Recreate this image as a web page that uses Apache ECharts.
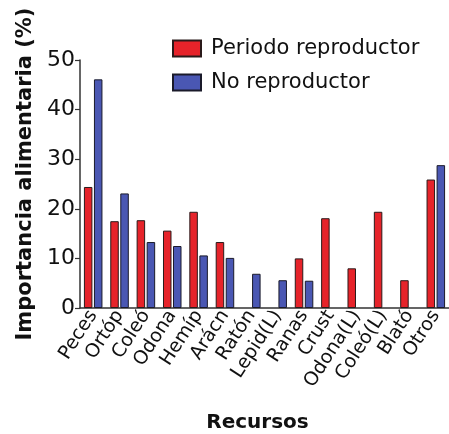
<!DOCTYPE html>
<html><head><meta charset="utf-8">
<script src="https://cdn.jsdelivr.net/npm/echarts@6/dist/echarts.min.js"></script>
<style>html,body{margin:0;padding:0;background:#fff}#c{width:449px;height:434px}</style>
</head><body><div id="c"></div>
<script>
const categories = ['Peces','Ortóp','Coleó','Odona','Hemíp','Arácn','Ratón','Lepid(L)','Ranas','Crust','Odona(L)','Coleó(L)','Blató','Otros'];
const reproductor = [24.4,17.5,17.7,15.6,19.4,13.3,null,null,10.0,18.1,8.0,19.4,5.6,25.9];
const noReproductor = [46.1,23.1,13.3,12.5,10.6,10.1,6.9,5.6,5.5,null,null,null,null,28.8];
const yTicks = [0,10,20,30,40,50];

const chart = echarts.init(document.getElementById('c'));
const font = 'DejaVu Sans';
chart.setOption({
  animation:false,
  backgroundColor:'#fff',
  textStyle:{fontFamily:font},
  legend:{
    orient:'vertical', left:167, top:33, itemWidth:28, itemHeight:16, itemGap:13,
    icon:'rect',
    textStyle:{fontSize:21, lineHeight:16, color:'#111', fontFamily:font, padding:[0,0,0,5]},
    data:['Periodo reproductor','No reproductor']
  },
  grid:{left:80, right:0, top:60, bottom:126, outerBoundsMode:'none', containLabel:false},
  xAxis:{
    type:'category', data:categories,
    name:'Recursos', nameLocation:'middle', nameGap:105,
    nameTextStyle:{fontSize:20, fontWeight:'bold', color:'#111', fontFamily:font, padding:[0,14,0,0]},
    axisLine:{lineStyle:{color:'#333', width:1.5}},
    axisTick:{alignWithLabel:true, length:5, lineStyle:{color:'#333', width:1.2}},
    axisLabel:{rotate:57, fontSize:19, color:'#111', interval:0, margin:4, fontFamily:font, hideOverlap:false}
  },
  yAxis:{
    type:'value', min:0, max:50, interval:10,
    name:'Importancia alimentaria (%)', nameLocation:'middle', nameGap:42,
    nameTextStyle:{fontSize:21, fontWeight:'bold', color:'#111', fontFamily:font, padding:[0,0,0,20]},
    axisLine:{show:true, lineStyle:{color:'#333', width:1.5}},
    axisTick:{show:true, length:5, lineStyle:{color:'#333', width:1.2}},
    axisLabel:{fontSize:22, color:'#111', margin:5, fontFamily:font,
      formatter:v=>yTicks.includes(v)?String(v):''},
    splitLine:{show:false}
  },
  series:[
    {name:'Periodo reproductor', type:'bar', data:reproductor, barWidth:8.5, barGap:'18%',
      itemStyle:{color:'#e6232a', borderColor:'#2a1a1a', borderWidth:1}},
    {name:'No reproductor', type:'bar', data:noReproductor, barWidth:8.5,
      itemStyle:{color:'#4a57b3', borderColor:'#1a1a2a', borderWidth:1}}
  ]
});
</script></body></html>
